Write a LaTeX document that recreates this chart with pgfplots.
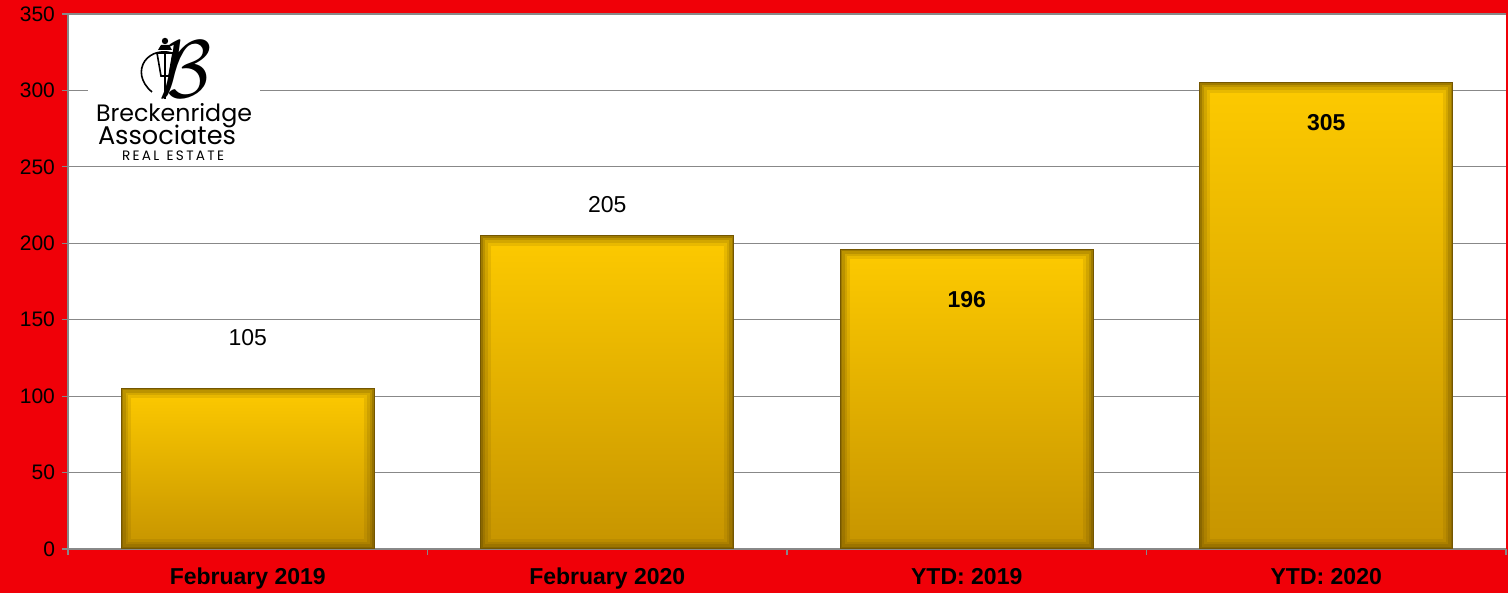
\documentclass[border=0pt]{standalone}
\usepackage{pgfplots}
\pgfplotsset{compat=1.18}
\usepackage{graphicx}
\usepackage{fontspec}
\setmainfont{Liberation Sans}
\newfontfamily\logofont{Poppins}
\definecolor{bgred}{RGB}{240,0,8}
\definecolor{gridgray}{RGB}{136,136,136}
\definecolor{goldtop}{RGB}{253,202,0}
\definecolor{goldbot}{RGB}{198,148,0}
\definecolor{golddark}{RGB}{95,70,0}

% pixel position of the reference -> picture coordinates
\newcommand{\px}[2]{({#1*0.5pt-34pt},{(549-#2)*0.5pt})}

% dark soft edge inside each bar (basic layer, so no tikz options are inherited)
\tikzset{
  innerglow/.style={
    path picture={
      \foreach \w/\o in {10pt/0.12,7pt/0.15,4.5pt/0.2,2pt/0.3}{
        \pgfsetlinewidth{\w}\pgfsetstrokecolor{golddark}\pgfsetstrokeopacity{\o}
        \pgfpathrectanglecorners
          {\pgfpointanchor{path picture bounding box}{south west}}
          {\pgfpointanchor{path picture bounding box}{north east}}
        \pgfusepath{stroke}
      }
    }
  }
}
\pgfplotsset{goldbar/.style={draw=golddark!80!goldbot, line width=0.6pt,
    top color=goldtop, middle color=goldtop!55!goldbot, bottom color=goldbot,
    innerglow}}

\begin{document}
\begin{tikzpicture}
\path[use as bounding box, fill=bgred] (-34pt,-22pt) rectangle (720pt,274.5pt);
\begin{axis}[
    at={(0,0)}, anchor=south west,
    scale only axis, width=719pt, height=267.5pt,
    ybar, bar width=0.703, bar shift=0pt,
    xmin=-0.5, xmax=3.5, ymin=0, ymax=350,
    ytick={0,50,...,350},
    xtick={-0.5,0.5,1.5,2.5,3.5}, xticklabels={},
    extra x ticks={0,1,2,3},
    extra x tick labels={February 2019,February 2020,YTD: 2019,YTD: 2020},
    extra x tick style={major tick length=0pt,
        xticklabel style={font=\fontsize{11.5}{12}\selectfont\bfseries, yshift=-6pt}},
    yticklabel style={font=\fontsize{10.5}{12}\selectfont},
    tick align=outside, major tick length=3pt,
    tick style={gridgray, line width=0.6pt},
    ymajorgrids, grid style={gridgray, line width=0.6pt},
    axis x line*=bottom, axis y line*=left,
    axis line style={gridgray, line width=0.6pt, -},
    axis background/.style={fill=white},
    /pgf/number format/assume math mode=true,
]
% one plot per bar, so each bar gets its own gradient and edge
\addplot[goldbar] coordinates {(0,105)};
\addplot[goldbar] coordinates {(1,205)};
\addplot[goldbar] coordinates {(2,196)};
\addplot[goldbar] coordinates {(3,305)};
\node[font=\fontsize{11.5}{12}\selectfont] at (axis cs:0,138) {105};
\node[font=\fontsize{11.5}{12}\selectfont] at (axis cs:1,225) {205};
\node[font=\fontsize{11.5}{12}\selectfont\bfseries] at (axis cs:2,163) {196};
\node[font=\fontsize{11.5}{12}\selectfont\bfseries] at (axis cs:3,279) {305};
\end{axis}
% logo
\fill[white] \px{88}{28} rectangle \px{260}{166};
\node[inner sep=0pt] at \px{174}{116} {\resizebox{78pt}{!}{\logofont Breckenridge}};
\node[inner sep=0pt] at \px{167}{135} {\resizebox{69pt}{!}{\logofont Associates}};
\node[inner sep=0pt] at \px{173}{156} {\resizebox{51pt}{!}{\logofont R\,E\,A\,L\;\;E\,S\,T\,A\,T\,E}};
\node[inner sep=0pt] at \px{186}{70} {\resizebox{26pt}{28pt}{$\mathcal{B}$}};
\begin{scope}[line width=0.8pt, black]
\fill \px{165}{41} circle (1.6pt);
\fill \px{158}{50} -- \px{172}{50} -- \px{169}{45} -- \px{161}{45} -- cycle;
\draw \px{157}{53} -- \px{173}{53} -- \px{169}{76} -- \px{161}{76} -- cycle;
\draw \px{165}{53} -- \px{165}{99};
\draw \px{152}{92} .. controls \px{128}{72} and \px{148}{42} .. \px{178}{55};
\end{scope}
\end{tikzpicture}
\end{document}
